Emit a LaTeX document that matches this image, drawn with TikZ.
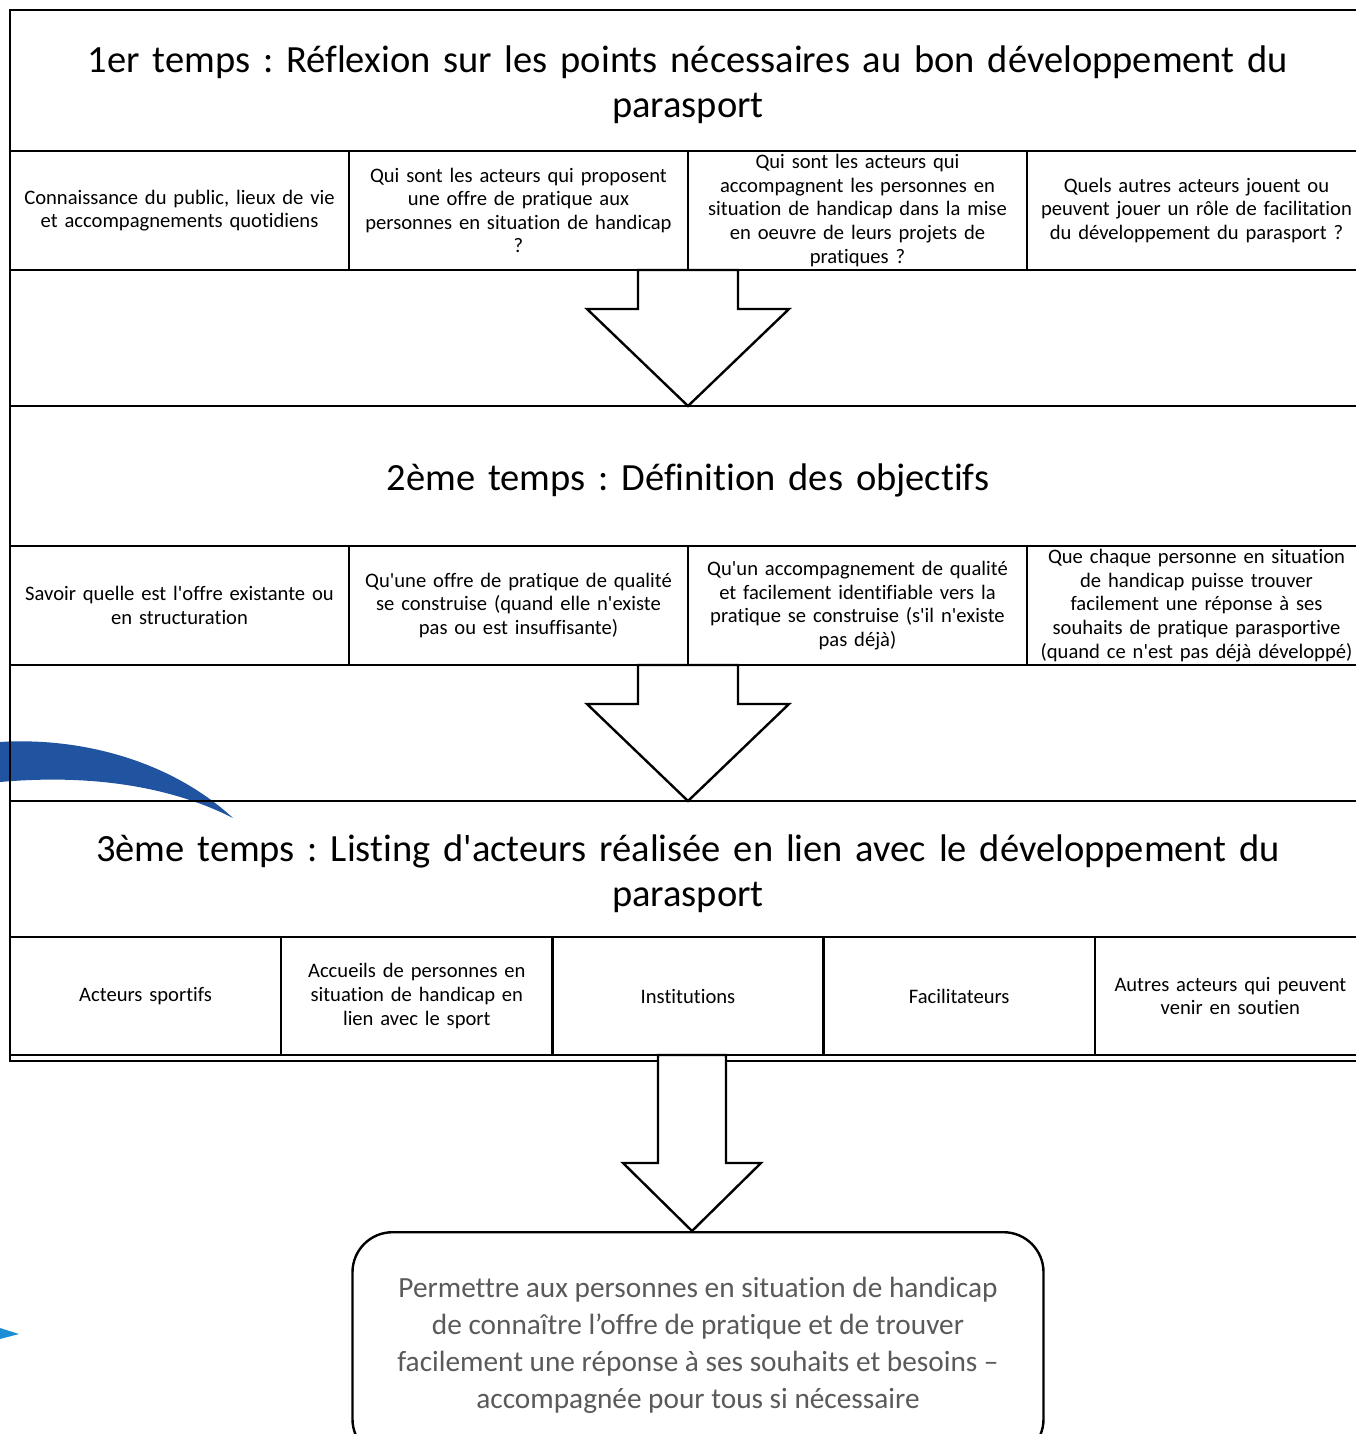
\documentclass[tikz,border=0pt]{standalone}
\usepackage{fontspec}
\setmainfont{Carlito}[Ligatures={TeXOff,NoCommon}]
\usetikzlibrary{positioning,calc}
\frenchspacing

\definecolor{bleufonce}{RGB}{32,83,160}
\definecolor{bleuclair}{RGB}{26,143,216}
\definecolor{grisbut}{RGB}{90,90,90}

% block arrow from a start point (top of shaft) down to a tip
\newcommand{\blocfleche}[5]{%
  \draw[fleche] ($(#1)+(-#3,0)$) -- ($(#2)+(-#3,-#5)$) -- ($(#2)+(-#4,-#5)$) -- (#2)
    -- ($(#2)+(#4,-#5)$) -- ($(#2)+(#3,-#5)$) -- ($(#1)+(#3,0)$) -- cycle;}

\begin{document}
\begin{tikzpicture}[x=1pt,y=-1pt]
  \path[use as bounding box] (0,0) rectangle (1356,1434);
  \fill[white] (0,0) rectangle (1356,1434);

  \tikzset{trait/.style={line width=2.4pt,draw=black},
    titre/.style={trait,minimum width=1356pt,inner xsep=0pt,inner ysep=0pt,outer sep=0pt,
      align=center,text width=1340pt,font=\fontsize{38.5}{45}\selectfont,
      execute at begin node={\rule{0pt}{36pt}}},
    cellule/.style={trait,minimum width=339pt,minimum height=119pt,inner xsep=2pt,inner ysep=0pt,
      outer sep=0pt,align=center,text width=335pt,font=\fontsize{20.6}{23.6}\selectfont},
    acteur/.style={cellule,minimum width=271.2pt,minimum height=118pt,text width=267pt},
    fleche/.style={trait,fill=white,line join=miter}}

  % decorative swooshes behind the frame
  \fill[bleufonce] (0,742) .. controls (80,737) and (170,760) .. (233,818)
    .. controls (170,786) and (90,774) .. (0,782) -- cycle;
  \fill[bleuclair] (0,1328) -- (19,1334) -- (0,1339) -- cycle;

  % 1er temps
  \node[titre,minimum height=141pt,anchor=north west] (t1) at (10,10)
    {1er temps : Réflexion sur les points nécessaires au bon développement du\\parasport};
  \node[cellule,below right=0pt and 0pt of t1.south west] (c11)
    {Connaissance du public, lieux de vie\\et accompagnements quotidiens};
  \node[cellule,right=0pt of c11] (c12)
    {Qui sont les acteurs qui proposent\\une offre de pratique aux\\personnes en situation de handicap\\?};
  \node[cellule,right=0pt of c12] (c13)
    {Qui sont les acteurs qui\\accompagnent les personnes en\\situation de handicap dans la mise\\en oeuvre de leurs projets de\\pratiques ?};
  \node[cellule,right=0pt of c13] (c14)
    {Quels autres acteurs jouent ou\\peuvent jouer un rôle de facilitation\\du développement du parasport ?};

  % 2eme temps
  \node[titre,minimum height=140pt,below right=136pt and 0pt of c11.south west] (t2)
    {2ème temps : Définition des objectifs};
  \node[cellule,below right=0pt and 0pt of t2.south west] (c21)
    {Savoir quelle est l'offre existante ou\\en structuration};
  \node[cellule,right=0pt of c21] (c22)
    {Qu'une offre de pratique de qualité\\se construise (quand elle n'existe\\pas ou est insuffisante)};
  \node[cellule,right=0pt of c22] (c23)
    {Qu'un accompagnement de qualité\\et facilement identifiable vers la\\pratique se construise (s'il n'existe\\pas déjà)};
  \node[cellule,right=0pt of c23] (c24)
    {Que chaque personne en situation\\de handicap puisse trouver\\facilement une réponse à ses\\souhaits de pratique parasportive\\(quand ce n'est pas déjà développé)};

  % 3eme temps
  \node[titre,minimum height=136pt,below right=136pt and 0pt of c21.south west] (t3)
    {3ème temps : Listing d'acteurs réalisée en lien avec le développement du\\parasport};
  \node[acteur,below right=0pt and 0pt of t3.south west] (c31) {Acteurs sportifs};
  \node[acteur,right=0pt of c31] (c32)
    {Accueils de personnes en\\situation de handicap en\\lien avec le sport};
  \node[acteur,right=0pt of c32] (c33) {Institutions};
  \node[acteur,right=0pt of c33] (c34) {Facilitateurs};
  \node[acteur,right=0pt of c34] (c35) {Autres acteurs qui peuvent\\venir en soutien};

  % outer frame (double bottom line)
  \draw[trait] (t1.north west) rectangle ($(c35.south east)+(0,6)$);

  % goal
  \node[trait,rounded corners=40pt,minimum width=691pt,minimum height=227pt,align=center,
    text=grisbut,font=\fontsize{29.3}{37}\selectfont,below=176pt of c33,xshift=10pt] (but)
    {Permettre aux personnes en situation de handicap\\de connaître l’offre de pratique et de trouver\\facilement une réponse à ses souhaits et besoins –\\accompagnée pour tous si nécessaire};

  \coordinate (depart3) at ($(c33.south)+(4,0)$);
  \coordinate (pointe3) at (depart3 |- but.north);

  \blocfleche{c12.south east}{t2.north}{50}{101}{97}
  \blocfleche{c22.south east}{t3.north}{50}{101}{97}
  \blocfleche{depart3}{pointe3}{34}{69}{68}
\end{tikzpicture}
\end{document}
